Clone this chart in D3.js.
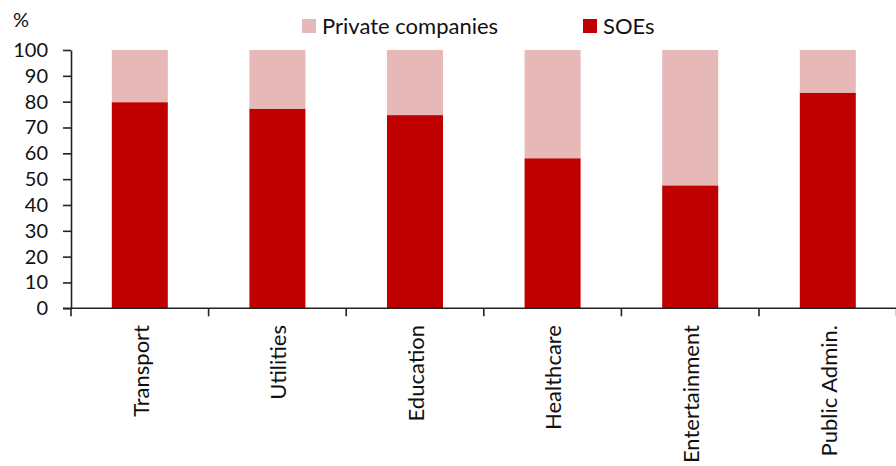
<!DOCTYPE html>
<html>
<head>
<meta charset="utf-8">
<script src="https://cdn.jsdelivr.net/npm/d3@7"></script>
<style>
  html, body { margin: 0; padding: 0; background: #fff; }
  svg { display: block; font-family: Lato, "Open Sans", sans-serif; }
</style>
</head>
<body>
<svg id="chart" width="896" height="466"></svg>
<script>
// Sectors and share of employment (%) by ownership type
const categories = ["Transport", "Utilities", "Education", "Healthcare", "Entertainment", "Public Admin."];
const soeShare = [79.8, 77.3, 74.8, 58.1, 47.6, 83.5];
const privateShare = [20.2, 22.7, 25.2, 41.9, 52.4, 16.5];
const seriesNames = ["Private companies", "SOEs"];
const seriesColors = ["#e6b8b7", "#c00000"];
const yTicks = [0, 10, 20, 30, 40, 50, 60, 70, 80, 90, 100];

const svg = d3.select("#chart");
const plotLeft = 71, plotRight = 896.6, plotTop = 50, plotBottom = 308.3;

const rows = categories.map((c, i) => ({ cat: c, SOEs: soeShare[i], "Private companies": privateShare[i] }));
const stacked = d3.stack().keys(["SOEs", "Private companies"])(rows);

const x = d3.scaleBand().domain(categories).range([plotLeft, plotRight])
  .paddingInner(0.593).paddingOuter(0.2965);
const y = d3.scaleLinear().domain([0, 100]).range([plotBottom, plotTop]);
const color = d3.scaleOrdinal().domain(seriesNames).range(seriesColors);

// stacked bars
svg.append("g").selectAll("g").data(stacked).join("g")
  .attr("fill", d => color(d.key))
  .selectAll("rect").data(d => d).join("rect")
  .attr("x", d => x(d.data.cat))
  .attr("width", x.bandwidth())
  .attr("y", d => y(d[1]))
  .attr("height", d => y(d[0]) - y(d[1]));

// y axis
const yAxis = svg.append("g").attr("transform", `translate(${plotLeft},0)`)
  .call(d3.axisLeft(y).tickValues(yTicks).tickSize(8).tickPadding(15).tickSizeOuter(0));
yAxis.select(".domain").attr("stroke", "#222").attr("stroke-width", 1.6);
yAxis.selectAll(".tick line").attr("stroke", "#222").attr("stroke-width", 1.6);
yAxis.selectAll(".tick text").attr("font-size", 20).attr("fill", "#111")
  .attr("font-family", "Lato, sans-serif");

// x axis baseline with boundary ticks between categories
const step = x.step();
const xg = svg.append("g");
xg.append("line").attr("x1", plotLeft - 8).attr("x2", plotRight).attr("y1", plotBottom).attr("y2", plotBottom)
  .attr("stroke", "#222").attr("stroke-width", 1.6);
xg.selectAll("line.b").data(d3.range(categories.length + 1)).join("line")
  .attr("class", "b")
  .attr("x1", i => plotLeft + i * step).attr("x2", i => plotLeft + i * step)
  .attr("y1", plotBottom).attr("y2", plotBottom + 8)
  .attr("stroke", "#222").attr("stroke-width", 1.6);

// category labels, rotated
xg.selectAll("text").data(categories).join("text")
  .attr("transform", d => `translate(${x(d) + x.bandwidth() / 2 + 1},325) rotate(-90)`)
  .attr("text-anchor", "end")
  .attr("dy", "0.35em")
  .attr("font-size", 22)
  .attr("fill", "#111")
  .text(d => d);

// unit label
svg.append("text").attr("x", 13).attr("y", 27).attr("font-size", 20).attr("fill", "#111").text("%");

// legend
const legendX = [302, 583];
const lg = svg.append("g").selectAll("g").data(seriesNames).join("g")
  .attr("transform", (d, i) => `translate(${legendX[i]},19)`);
lg.append("rect").attr("width", 14).attr("height", 14).attr("fill", d => color(d));
lg.append("text").attr("x", 20).attr("y", 14.5).attr("font-size", 22).attr("fill", "#111").text(d => d);
</script>
</body>
</html>
